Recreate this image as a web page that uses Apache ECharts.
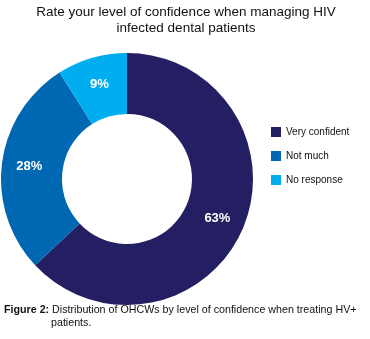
<!DOCTYPE html>
<html>
<head>
<meta charset="utf-8">
<script src="https://cdn.jsdelivr.net/npm/echarts@6/dist/echarts.min.js"></script>
<style>
  html, body { margin: 0; padding: 0; background: #fff; }
  #chart { width: 370px; height: 339px; }
</style>
</head>
<body>
<div id="chart"></div>
<script>
// responses (percent of OHCWs)
const categories = ['Very confident', 'Not much', 'No response'];
const shares = [63, 28, 9];
const colors = ['#241f62', '#0068b2', '#00aeef'];

const font = '"Liberation Sans", Arial, Helvetica, sans-serif';

const chart = echarts.init(document.getElementById('chart'));

chart.setOption({
    animation: false,
    color: colors,
    graphic: [
        {
            type: 'text',
            x: 186,
            y: 4,
            style: {
                text: 'Rate your level of confidence when managing HIV\ninfected dental patients',
                align: 'center',
                verticalAlign: 'top',
                fill: '#111',
                font: '13.5px ' + font,
                lineHeight: 16
            }
        },
        {
            type: 'text',
            x: 4,
            y: 305,
            style: {
                text: '{b|Figure 2:} Distribution of OHCWs by level of confidence when treating HV+',
                fill: '#111',
                fontSize: 10.7,
                fontFamily: font,
                fontWeight: 'normal',
                rich: {
                    b: { fontWeight: 'bold', fontSize: 10.7, fontFamily: font, fill: '#111' }
                }
            }
        },
        {
            type: 'text',
            x: 51,
            y: 318,
            style: {
                text: 'patients.',
                fill: '#111',
                font: '10.7px ' + font
            }
        }
    ],
    legend: {
        orient: 'vertical',
        left: 266,
        top: 122,
        icon: 'rect',
        itemWidth: 10,
        itemHeight: 10,
        itemGap: 14,
        textStyle: {
            color: '#111',
            fontSize: 10,
            fontFamily: font
        },
        data: categories
    },
    series: [
        {
            type: 'pie',
            radius: [65, 126],
            center: [127, 179],
            startAngle: 90,
            clockwise: true,
            avoidLabelOverlap: false,
            label: {
                show: true,
                position: 'inside',
                formatter: '{c}%',
                color: '#fff',
                fontWeight: 'bold',
                fontSize: 13,
                fontFamily: font
            },
            labelLine: { show: false },
            emphasis: { scale: false },
            data: categories.map((name, i) => ({ name: name, value: shares[i] }))
        }
    ]
});
</script>
</body>
</html>
